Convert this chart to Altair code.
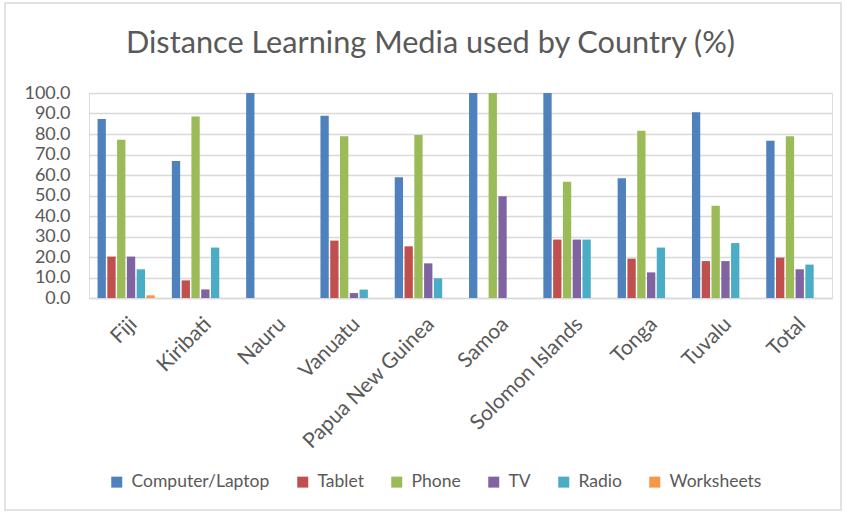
import altair as alt
import pandas as pd

countries = ["Fiji", "Kiribati", "Nauru", "Vanuatu", "Papua New Guinea",
             "Samoa", "Solomon Islands", "Tonga", "Tuvalu", "Total"]
media = ["Computer/Laptop", "Tablet", "Phone", "TV", "Radio", "Worksheets"]

computer = [87.3, 66.8, 100.0, 88.9, 58.9, 100.0, 100.0, 58.4, 90.6, 76.7]
tablet = [20.2, 8.6, 0.0, 28.0, 25.2, 0.0, 28.5, 19.2, 18.0, 19.7]
phone = [77.2, 88.5, 0.0, 78.9, 79.5, 100.0, 56.7, 81.6, 45.0, 78.9]
tv = [20.2, 4.2, 0.0, 2.4, 16.9, 49.6, 28.5, 12.5, 18.0, 14.0]
radio = [14.0, 24.6, 0.0, 4.1, 9.6, 0.0, 28.5, 24.6, 26.8, 16.3]
worksheets = [1.3, 0.0, 0.0, 0.0, 0.0, 0.0, 0.0, 0.0, 0.0, 0.0]

colors = ["#4F81BD", "#C0504D", "#9BBB59", "#8064A2", "#4BACC6", "#F79646"]
y_ticks = [0, 10, 20, 30, 40, 50, 60, 70, 80, 90, 100]

series = [computer, tablet, phone, tv, radio, worksheets]
rows = []
for m, vals in zip(media, series):
    for c, v in zip(countries, vals):
        rows.append({"Country": c, "Media": m, "Value": v})
df = pd.DataFrame(rows)

FONT = "Lato"
GREY = "#595959"

bars = alt.Chart(df).mark_bar().encode(
    x=alt.X("Country:N", sort=countries, title=None,
            scale=alt.Scale(paddingInner=0.23, paddingOuter=0.115),
            axis=alt.Axis(labelAngle=-45, labelFontSize=21, labelColor=GREY,
                          labelFont=FONT, ticks=False, domain=True,
                          domainColor="#D9D9D9", domainWidth=1.5,
                          labelPadding=15, grid=False)),
    xOffset=alt.XOffset("Media:N", sort=media,
                        scale=alt.Scale(paddingInner=0.15)),
    y=alt.Y("Value:Q", title=None,
            scale=alt.Scale(domain=[0, 100], nice=False),
            axis=alt.Axis(values=y_ticks, format=".1f", labelFontSize=18,
                          labelColor=GREY, labelFont=FONT, ticks=False,
                          domain=False, gridColor="#D9D9D9", gridWidth=1.5,
                          labelPadding=19)),
    color=alt.Color("Media:N", sort=media,
                    scale=alt.Scale(domain=media, range=colors),
                    legend=alt.Legend(title=None, orient="none",
                                      direction="horizontal",
                                      legendX=19, legendY=380,
                                      symbolType="square", symbolSize=121,
                                      symbolStrokeWidth=0,
                                      labelFontSize=17.5, labelColor=GREY,
                                      labelFont=FONT, labelOffset=6,
                                      columnPadding=24)),
)

frame = alt.Chart(pd.DataFrame({"a": [0]})).mark_rect(
    fill=None, stroke="#D9D9D9", strokeWidth=1.5
).encode(x=alt.value(-84), x2=alt.value(752), y=alt.value(-90),
         y2=alt.value(417))

chart = alt.layer(frame, bars).properties(
    width=743, height=205,
    padding={"left": 89, "top": 93, "right": 13, "bottom": 215},
    autosize=alt.AutoSizeParams(type="none"),
    title=alt.TitleParams("Distance Learning Media used by Country (%)",
                          font=FONT, fontSize=30.7, color=GREY,
                          fontWeight="normal", anchor="middle", dx=-30,
                          frame="group", offset=-57),
).configure_view(stroke=None).configure(background="white")

chart.save("out.html", embed_options={"renderer": "svg", "actions": False})
